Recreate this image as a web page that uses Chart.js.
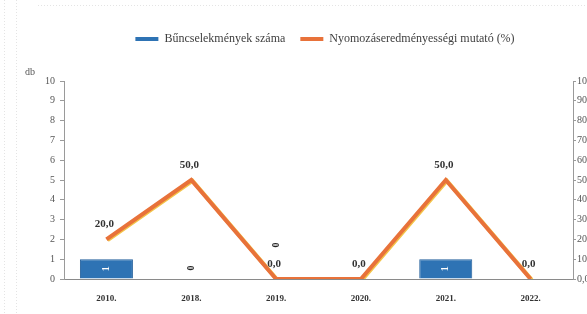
<!DOCTYPE html>
<html>
<head>
<meta charset="utf-8">
<script src="https://cdn.jsdelivr.net/npm/chart.js@4.4.0/dist/chart.umd.min.js"></script>
<style>
  html, body { margin: 0; padding: 0; background: #fff; overflow: hidden; width: 587px; height: 314px; }
  canvas { display: block; }
</style>
</head>
<body>
<canvas id="chart" width="650" height="314" style="width:650px;height:314px"></canvas>
<script>
// data
var years = ['2010.', '2018.', '2019.', '2020.', '2021.', '2022.'];
var crimeCounts = [1, 0, 0, 0, 1, 0];
var clearanceRates = [20, 50, 0, 0, 50, 0];
var seriesNames = ['Bűncselekmények száma', 'Nyomozáseredményességi mutató (%)'];
var countUnit = 'db';

// styling
var barColor = '#2E73B4';
var lineColor = '#E8723A';
var serif = '"Liberation Serif", "Times New Roman", serif';
// how far above the base the rotated bar label sits (null = not shown)
var barLabelLift = [0, 11, 34, null, 0, null];

function comma1(v) { return v.toFixed(1).replace('.', ','); }

var lineShadow = {
    id: 'lineShadow',
    beforeDatasetDraw: function(chart, args) {
        if (args.index !== 1) return;
        chart.ctx.save();
        chart.ctx.shadowColor = '#F3C44A';
        chart.ctx.shadowOffsetX = 1.2;
        chart.ctx.shadowOffsetY = 0.8;
        chart.ctx.shadowBlur = 0;
    },
    afterDatasetDraw: function(chart, args) {
        if (args.index !== 1) return;
        chart.ctx.restore();
    }
};

var extras = {
    id: 'extras',
    beforeDraw: function(chart) {
        var ctx = chart.ctx;
        ctx.save();
        ctx.strokeStyle = '#e4e4e4';
        ctx.setLineDash([1, 2]);
        ctx.lineWidth = 1;
        ctx.beginPath();
        ctx.moveTo(4.5, 0); ctx.lineTo(4.5, 314);
        ctx.moveTo(16.5, 0); ctx.lineTo(16.5, 314);
        ctx.moveTo(38, 5.5); ctx.lineTo(587, 5.5);
        ctx.stroke();
        ctx.restore();
    },
    afterDatasetsDraw: function(chart) {
        var ctx = chart.ctx;
        var bars = chart.getDatasetMeta(0).data;
        var pts = chart.getDatasetMeta(1).data;
        ctx.save();
        ctx.textAlign = 'center';
        ctx.textBaseline = 'middle';
        bars.forEach(function(bar, i) {
            var lift = barLabelLift[i];
            if (lift === null) return;
            var v = crimeCounts[i];
            var y;
            if (v > 0) {
                y = (bar.y + bar.base) / 2;
                ctx.fillStyle = '#ffffff';
            } else {
                y = bar.base - lift;
                ctx.fillStyle = '#222222';
            }
            ctx.save();
            ctx.translate(bar.x, y);
            ctx.rotate(-Math.PI / 2);
            ctx.font = 'bold 10px ' + serif;
            ctx.fillText(String(v), 0, 0);
            ctx.restore();
        });
        ctx.font = 'bold 11px ' + serif;
        ctx.fillStyle = '#333333';
        pts.forEach(function(pt, i) {
            ctx.fillText(comma1(clearanceRates[i]), pt.x - 2, pt.y - 15);
        });
        ctx.font = '10px ' + serif;
        ctx.fillStyle = '#555555';
        ctx.textAlign = 'left';
        ctx.fillText(countUnit, 25, 72);
        ctx.restore();
    }
};

new Chart(document.getElementById('chart').getContext('2d'), {
    type: 'bar',
    data: {
        labels: years,
        datasets: [
            {
                type: 'bar',
                label: seriesNames[0],
                data: crimeCounts,
                yAxisID: 'y',
                backgroundColor: barColor,
                borderColor: '#24609C',
                borderWidth: 1,
                barPercentage: 0.625,
                categoryPercentage: 1,
                order: 2
            },
            {
                type: 'line',
                label: seriesNames[1],
                data: clearanceRates,
                yAxisID: 'y1',
                borderColor: lineColor,
                backgroundColor: lineColor,
                borderWidth: 4,
                pointRadius: 0,
                tension: 0,
                order: 1
            }
        ]
    },
    options: {
        responsive: false,
        animation: false,
        layout: { padding: { top: 18, left: 0, right: 0, bottom: 0 } },
        plugins: {
            tooltip: { enabled: false },
            legend: {
                position: 'top',
                labels: {
                    boxWidth: 23,
                    boxHeight: 4,
                    padding: 15,
                    color: '#404040',
                    font: { family: serif, size: 12 },
                    sort: function(a, b) { return a.datasetIndex - b.datasetIndex; },
                    generateLabels: function(chart) {
                        var items = Chart.defaults.plugins.legend.labels.generateLabels(chart);
                        var cols = [barColor, lineColor];
                        items.forEach(function(it) {
                            it.fillStyle = cols[it.datasetIndex];
                            it.strokeStyle = cols[it.datasetIndex];
                            it.lineWidth = 0;
                        });
                        return items;
                    }
                }
            }
        },
        scales: {
            x: {
                grid: { display: false },
                border: { display: true, color: '#8a8a8a', dash: [2, 1] },
                ticks: {
                    color: '#333333',
                    padding: 6,
                    font: { family: serif, size: 9, weight: 'bold' }
                },
                afterFit: function(s) { s.height = 35; }
            },
            spacer: {
                type: 'category',
                position: 'top',
                labels: years,
                grid: { display: false },
                border: { display: false },
                ticks: { display: false },
                afterFit: function(s) { s.height = 26; }
            },
            y: {
                position: 'left',
                min: 0,
                max: 10,
                grid: { drawOnChartArea: false, drawTicks: true, tickLength: 4, color: '#9a9a9a' },
                border: { display: true, color: '#9a9a9a' },
                ticks: {
                    stepSize: 1,
                    padding: 5,
                    color: '#555555',
                    font: { family: serif, size: 10 }
                },
                afterFit: function(s) { s.width = 64; }
            },
            y1: {
                position: 'right',
                min: 0,
                max: 100,
                grid: { drawOnChartArea: false, drawTicks: true, tickLength: 3, color: '#9a9a9a' },
                border: { display: true, color: '#9a9a9a' },
                ticks: {
                    stepSize: 10,
                    padding: 1,
                    color: '#555555',
                    font: { family: serif, size: 10 },
                    callback: function(v) { return comma1(v); }
                },
                afterFit: function(s) { s.width = 77; }
            }
        }
    },
    plugins: [lineShadow, extras]
});
</script>
</body>
</html>
